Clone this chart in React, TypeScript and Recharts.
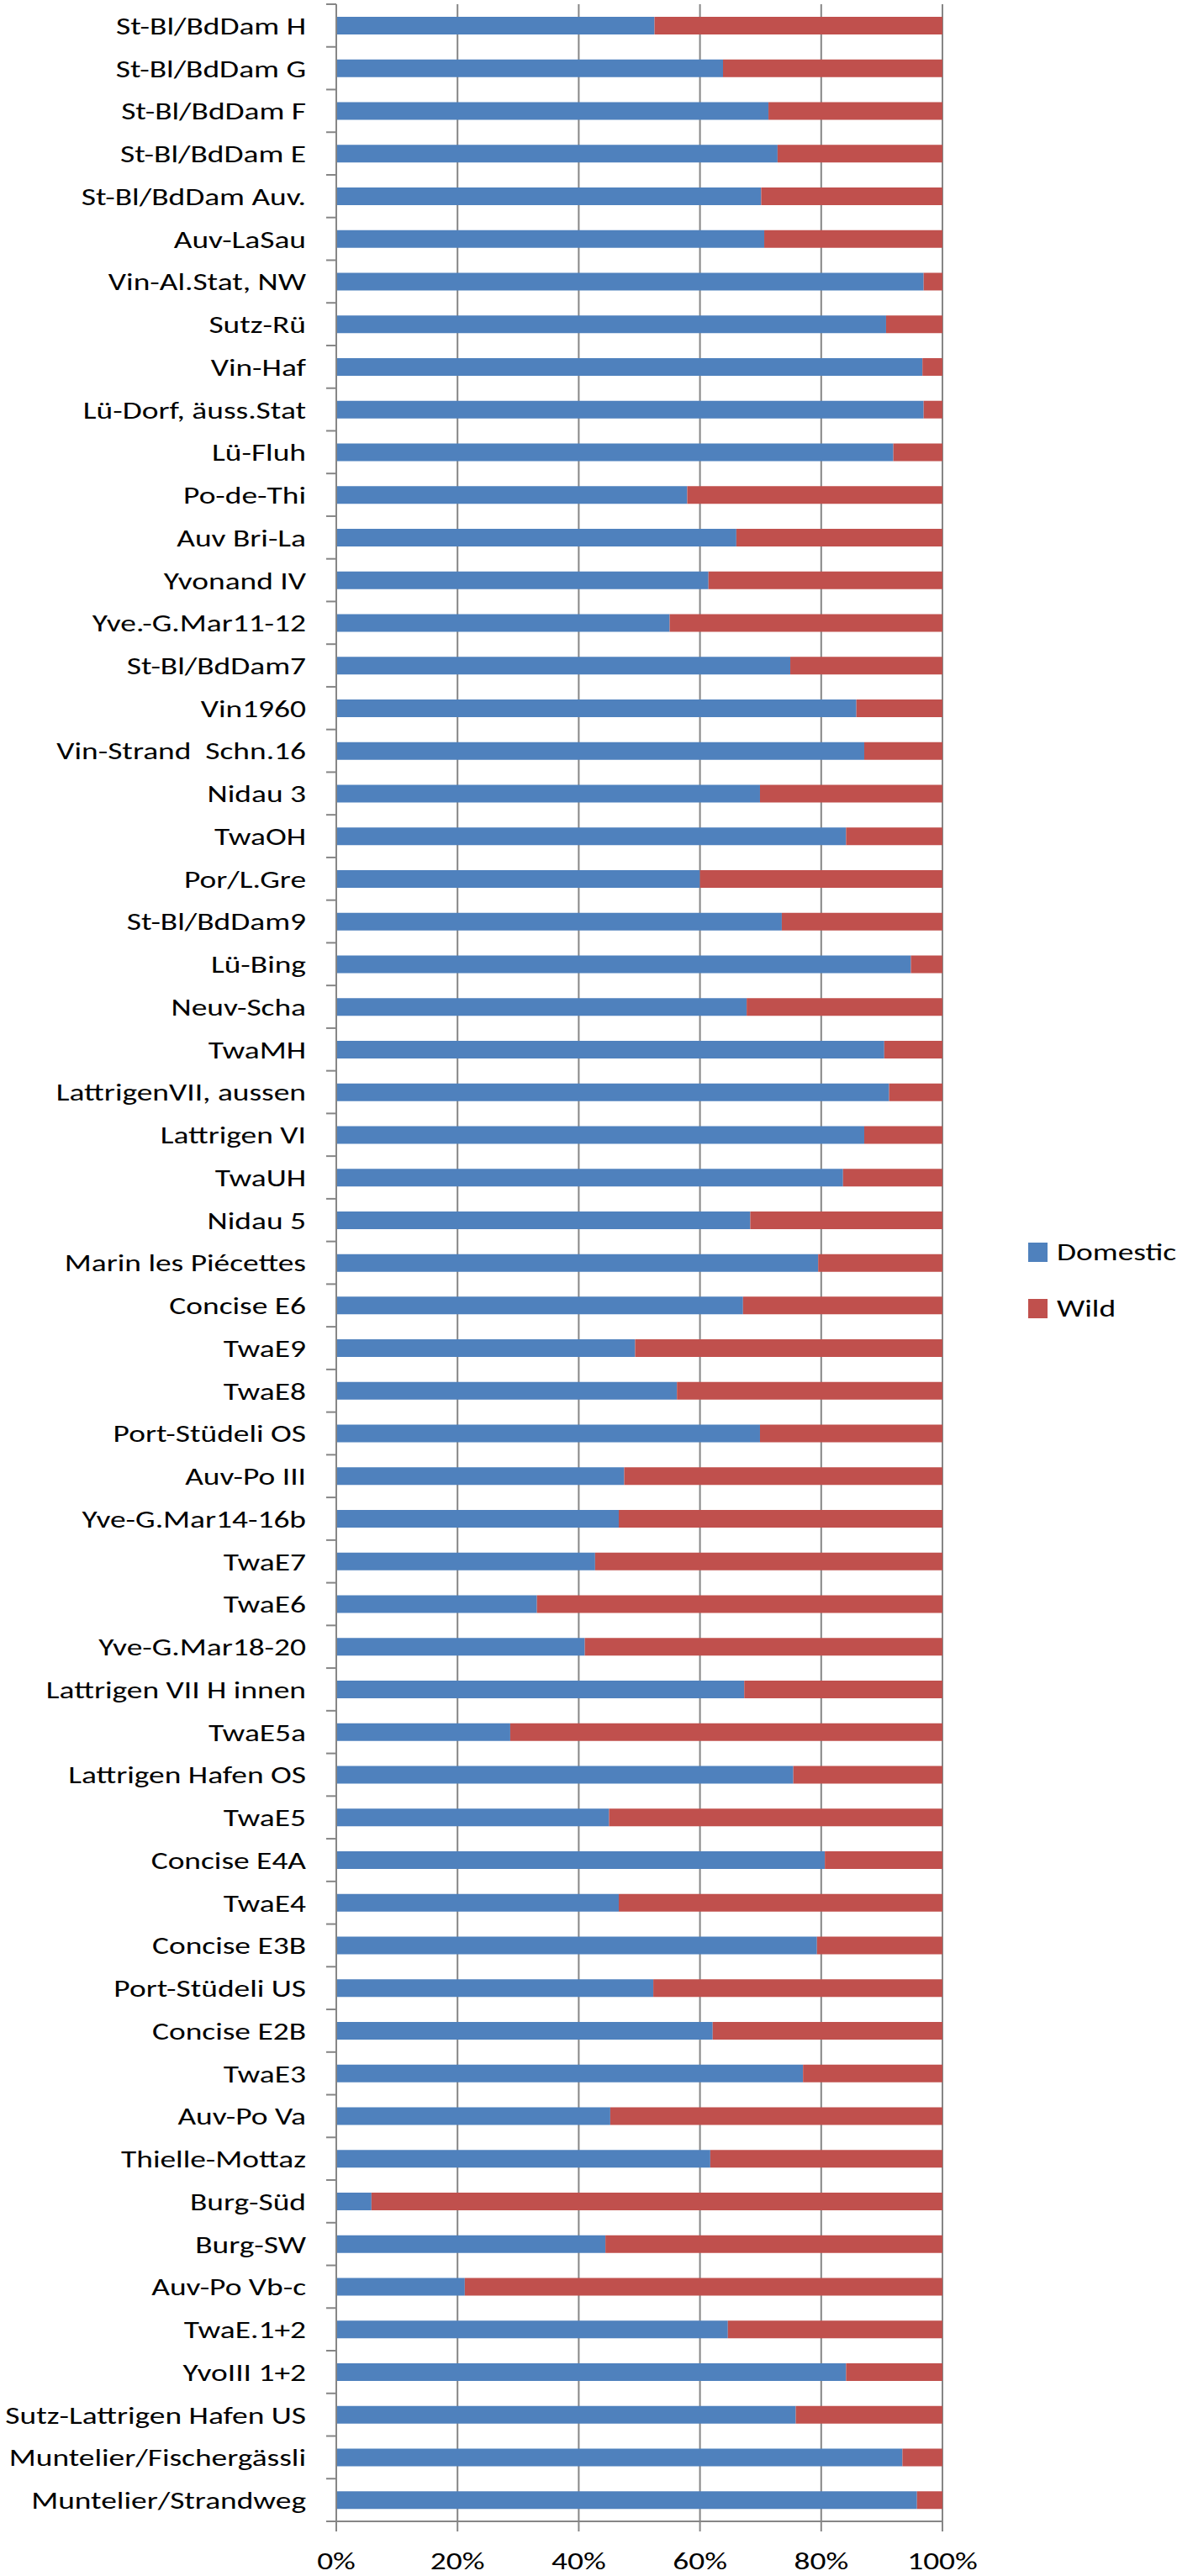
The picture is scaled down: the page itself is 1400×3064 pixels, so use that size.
import { Bar, BarChart, CartesianGrid, Legend, XAxis, YAxis } from "recharts";

const SITES = [
  "St-Bl/BdDam H",
  "St-Bl/BdDam G",
  "St-Bl/BdDam F",
  "St-Bl/BdDam E",
  "St-Bl/BdDam Auv.",
  "Auv-LaSau",
  "Vin-Al.Stat, NW",
  "Sutz-Rü",
  "Vin-Haf",
  "Lü-Dorf, äuss.Stat",
  "Lü-Fluh",
  "Po-de-Thi",
  "Auv Bri-La",
  "Yvonand IV",
  "Yve.-G.Mar11-12",
  "St-Bl/BdDam7",
  "Vin1960",
  "Vin-Strand  Schn.16",
  "Nidau 3",
  "TwaOH",
  "Por/L.Gre",
  "St-Bl/BdDam9",
  "Lü-Bing",
  "Neuv-Scha",
  "TwaMH",
  "LattrigenVII, aussen",
  "Lattrigen VI",
  "TwaUH",
  "Nidau 5",
  "Marin les Piécettes",
  "Concise E6",
  "TwaE9",
  "TwaE8",
  "Port-Stüdeli OS",
  "Auv-Po III",
  "Yve-G.Mar14-16b",
  "TwaE7",
  "TwaE6",
  "Yve-G.Mar18-20",
  "Lattrigen VII H innen",
  "TwaE5a",
  "Lattrigen Hafen OS",
  "TwaE5",
  "Concise E4A",
  "TwaE4",
  "Concise E3B",
  "Port-Stüdeli US",
  "Concise E2B",
  "TwaE3",
  "Auv-Po Va",
  "Thielle-Mottaz",
  "Burg-Süd",
  "Burg-SW",
  "Auv-Po Vb-c",
  "TwaE.1+2",
  "YvoIII 1+2",
  "Sutz-Lattrigen Hafen US",
  "Muntelier/Fischergässli",
  "Muntelier/Strandweg",
];

// percent of bones from domestic animals
const DOMESTIC = [
  52.5, 63.8, 71.3, 72.8, 70.1, 70.6, 96.9, 90.7, 96.7, 96.9,
  91.9, 57.9, 66.0, 61.4, 55.0, 74.9, 85.8, 87.1, 69.9, 84.1,
  60.0, 73.5, 94.8, 67.7, 90.4, 91.2, 87.1, 83.6, 68.3, 79.5,
  67.1, 49.3, 56.2, 69.9, 47.5, 46.6, 42.7, 33.1, 41.0, 67.3,
  28.7, 75.4, 45.0, 80.6, 46.6, 79.3, 52.3, 62.1, 77.0, 45.2,
  61.7, 5.8, 44.4, 21.2, 64.6, 84.1, 75.8, 93.4, 95.8,
];

// percent of bones from wild animals
const WILD = [
  47.5, 36.2, 28.7, 27.2, 29.9, 29.4, 3.1, 9.3, 3.3, 3.1,
  8.1, 42.1, 34.0, 38.6, 45.0, 25.1, 14.2, 12.9, 30.1, 15.9,
  40.0, 26.5, 5.2, 32.3, 9.6, 8.8, 12.9, 16.4, 31.7, 20.5,
  32.9, 50.7, 43.8, 30.1, 52.5, 53.4, 57.3, 66.9, 59.0, 32.7,
  71.3, 24.6, 55.0, 19.4, 53.4, 20.7, 47.7, 37.9, 23.0, 54.8,
  38.3, 94.2, 55.6, 78.8, 35.4, 15.9, 24.2, 6.6, 4.2,
];

const X_TICKS = [0, 20, 40, 60, 80, 100];

const COLORS = {
  domestic: "#4F81BD",
  wild: "#C0504D",
  axis: "#868686",
  text: "#000000",
};

// the original text is a slightly widened Calibri
const FONT = "Carlito, Lato, 'Liberation Sans', sans-serif";
const FONT_SIZE = 29;
const STRETCH = 1.29;
const CAP_HALF = FONT_SIZE * 0.36;

const WIDTH = 1400;
const HEIGHT = 3064;
const MARGIN = { top: 5, right: 279, bottom: 0, left: 0 };
const Y_AXIS_WIDTH = 400;
const X_AXIS_HEIGHT = 65;
const PLOT_BOTTOM = HEIGHT - MARGIN.bottom - X_AXIS_HEIGHT;
const BAND = (PLOT_BOTTOM - MARGIN.top) / SITES.length;

const data = SITES.map((site, i) => ({
  site,
  domestic: DOMESTIC[i],
  wild: WILD[i],
}));

function SiteTick(props: any) {
  const { y, payload, index } = props;
  const axisX = Y_AXIS_WIDTH;
  return (
    <g>
      <text
        x={0}
        y={0}
        transform={`translate(${axisX - 36}, ${y + CAP_HALF}) scale(${STRETCH}, 1)`}
        textAnchor="end"
        fontFamily={FONT}
        fontSize={FONT_SIZE}
        fill={COLORS.text}
        style={{ whiteSpace: "pre" }}
      >
        {payload.value}
      </text>
      <line
        x1={axisX - 12}
        x2={axisX}
        y1={y - BAND / 2}
        y2={y - BAND / 2}
        stroke={COLORS.axis}
        strokeWidth={2}
      />
      {index === SITES.length - 1 && (
        <line
          x1={axisX - 12}
          x2={axisX}
          y1={y + BAND / 2}
          y2={y + BAND / 2}
          stroke={COLORS.axis}
          strokeWidth={2}
        />
      )}
    </g>
  );
}

function PercentTick(props: any) {
  const { x, payload } = props;
  return (
    <text
      x={0}
      y={0}
      transform={`translate(${x}, ${PLOT_BOTTOM + 57}) scale(${STRETCH}, 1)`}
      textAnchor="middle"
      fontFamily={FONT}
      fontSize={FONT_SIZE}
      fill={COLORS.text}
    >
      {`${payload.value}%`}
    </text>
  );
}

function LegendBox() {
  const items = [
    { label: "Domestic", color: COLORS.domestic },
    { label: "Wild", color: COLORS.wild },
  ];
  return (
    <div style={{ fontFamily: FONT, fontSize: FONT_SIZE, color: COLORS.text }}>
      {items.map((item) => (
        <div
          key={item.label}
          style={{
            display: "flex",
            alignItems: "center",
            height: 23,
            marginBottom: 44,
          }}
        >
          <span
            style={{
              display: "inline-block",
              width: 23,
              height: 23,
              background: item.color,
              marginRight: 11,
            }}
          />
          <span
            style={{
              lineHeight: "23px",
              display: "inline-block",
              transform: `scaleX(${STRETCH})`,
              transformOrigin: "left center",
            }}
          >
            {item.label}
          </span>
        </div>
      ))}
    </div>
  );
}

export default function App() {
  return (
    <div
      style={{
        position: "absolute",
        left: 0,
        top: 0,
        width: WIDTH,
        height: HEIGHT,
        background: "#ffffff",
      }}
    >
      <BarChart
        data={data}
        layout="vertical"
        width={WIDTH}
        height={HEIGHT}
        margin={MARGIN}
        barSize={21}
      >
        <CartesianGrid
          horizontal={false}
          stroke={COLORS.axis}
          strokeWidth={2}
        />
        <XAxis
          type="number"
          domain={[0, 100]}
          ticks={X_TICKS}
          height={X_AXIS_HEIGHT}
          axisLine={{ stroke: COLORS.axis, strokeWidth: 2 }}
          tickLine={{ stroke: COLORS.axis, strokeWidth: 2 }}
          tickSize={12}
          tick={<PercentTick />}
          allowDataOverflow
        />
        <YAxis
          type="category"
          dataKey="site"
          width={Y_AXIS_WIDTH}
          interval={0}
          axisLine={{ stroke: COLORS.axis, strokeWidth: 2 }}
          tickLine={false}
          tick={<SiteTick />}
        />
        <Legend
          layout="vertical"
          align="center"
          verticalAlign="middle"
          content={<LegendBox />}
          wrapperStyle={{ left: 1223, top: 1478, width: 200 }}
        />
        <Bar
          dataKey="domestic"
          name="Domestic"
          stackId="a"
          fill={COLORS.domestic}
          isAnimationActive={false}
        />
        <Bar
          dataKey="wild"
          name="Wild"
          stackId="a"
          fill={COLORS.wild}
          isAnimationActive={false}
        />
      </BarChart>
    </div>
  );
}
